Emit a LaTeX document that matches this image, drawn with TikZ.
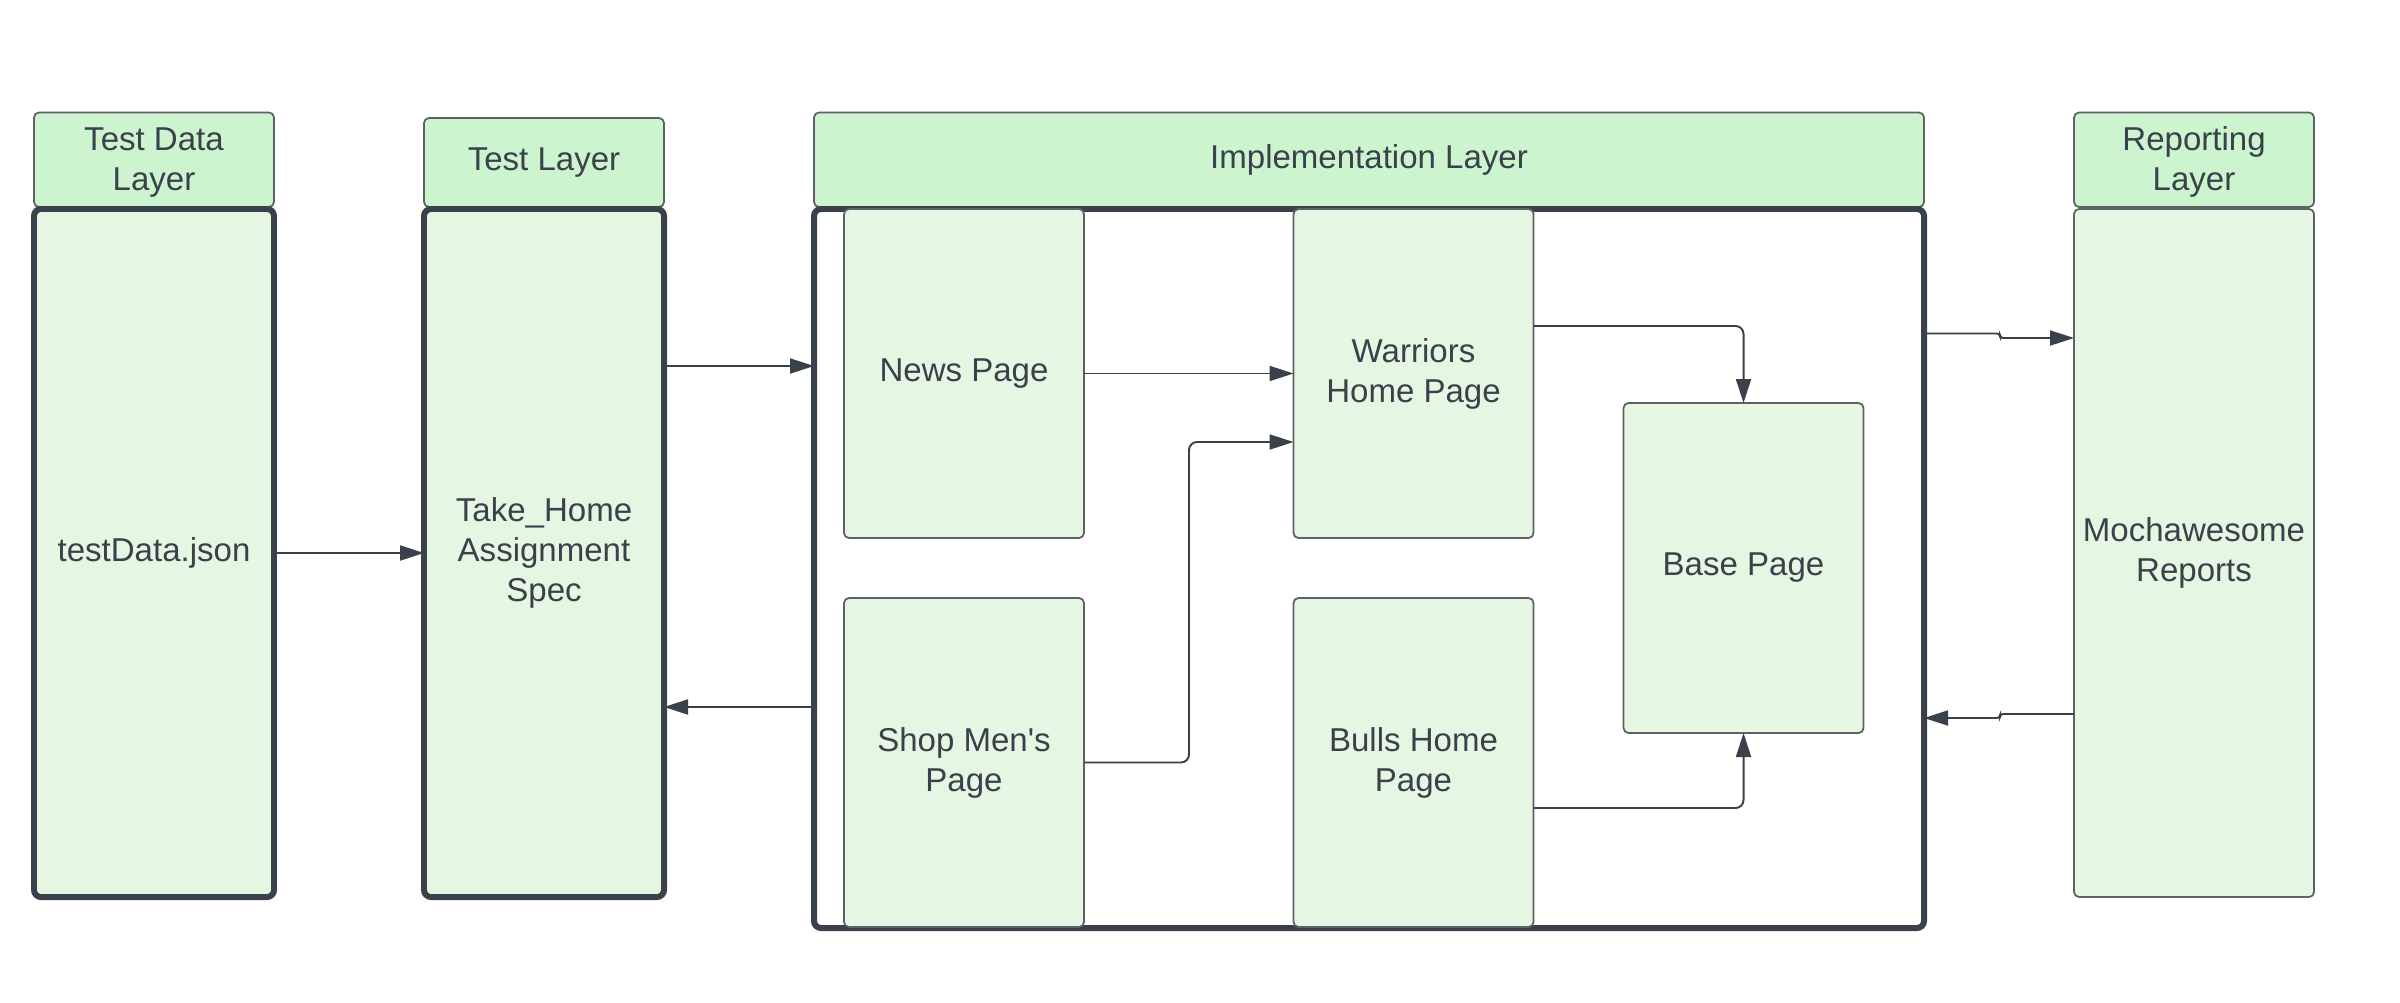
\documentclass[tikz,border=0pt]{standalone}
\usepackage{fontspec}
\setmainfont{Liberation Sans}[Ligatures=TeXOff]
\usetikzlibrary{arrows.meta}
\definecolor{ink}{HTML}{3A414A}
\definecolor{headgreen}{HTML}{CCF5CF}
\definecolor{bodygreen}{HTML}{E5F7E3}
\definecolor{edgegray}{HTML}{5E6166}
\tikzset{
  lbl/.style={text=ink,font=\fontsize{9.4}{11.4}\selectfont,align=center,inner sep=0pt,outer sep=0pt},
  headbox/.style={lbl,draw=edgegray,fill=headgreen,line width=0.5pt,rounded corners=0.05cm,minimum width=2.4cm,minimum height=0.945cm},
  layerbox/.style={lbl,draw=ink,fill=bodygreen,line width=1.7pt,rounded corners=0.07cm,minimum width=2.4cm,minimum height=6.88cm},
  pagebox/.style={lbl,draw=edgegray,fill=bodygreen,line width=0.5pt,rounded corners=0.05cm,minimum width=2.4cm,minimum height=3.29cm},
  conn/.style={draw=ink,line width=0.55pt,-{Triangle[length=0.24cm,width=0.15cm]}}
}
\begin{document}
\begin{tikzpicture}
\useasboundingbox (0,0) rectangle (24,-10.02);
\node[headbox] (tdHead) at (1.54,-1.5975) {\strut Test Data\\Layer};
\node[layerbox] (tdBody) at (1.54,-5.53) {testData.json};
\node[headbox,minimum height=0.89cm] (tlHead) at (5.44,-1.625) {Test Layer};
\node[layerbox] (tlBody) at (5.44,-5.53) {Take\_Home\\Assignment\\Spec};
\node[headbox,minimum width=11.1cm] (implHead) at (13.69,-1.5975) {Implementation Layer};
\node[layerbox,fill=white,minimum width=11.1cm,minimum height=7.19cm] (implFrame) at (13.69,-5.685) {};
\node[pagebox] (news) at (9.64,-3.735) {News Page};
\node[pagebox] (warriors) at (14.135,-3.735) {Warriors\\Home Page};
\node[pagebox,minimum height=3.3cm] (base) at (17.435,-5.68) {Base Page};
\node[pagebox] (shop) at (9.64,-7.625) {Shop Men's\\Page};
\node[pagebox] (bulls) at (14.135,-7.625) {Bulls Home\\Page};
\node[headbox] (repHead) at (21.94,-1.5975) {\strut Reporting\\Layer};
\node[pagebox,minimum height=6.88cm] (repBody) at (21.94,-5.53) {Mochawesome\\Reports};
\draw[conn] (tdBody) -- (tlBody);
\draw[conn] (tlBody.east |- 0,-3.66) -- (implFrame.west |- 0,-3.66);
\draw[conn] (implFrame.west |- 0,-7.07) -- (tlBody.east |- 0,-7.07);
\draw[conn] (news) -- (warriors);
\draw[conn,rounded corners=0.08cm] (shop.east) -- ++(1.05,0) |- ([yshift=-0.685cm]warriors.west);
\draw[conn,rounded corners=0.08cm] ([yshift=0.475cm]warriors.east) -| (base.north);
\draw[conn,rounded corners=0.08cm] ([yshift=-0.455cm]bulls.east) -| (base.south);
\draw[conn,rounded corners=0.03cm] (implFrame.east |- 0,-3.335) -- (20,-3.335) -- (20,-3.38) -- (repBody.west |- 0,-3.38);
\draw[conn,rounded corners=0.03cm] (repBody.west |- 0,-7.14) -- (20,-7.14) -- (20,-7.18) -- (implFrame.east |- 0,-7.18);
\end{tikzpicture}
\end{document}
